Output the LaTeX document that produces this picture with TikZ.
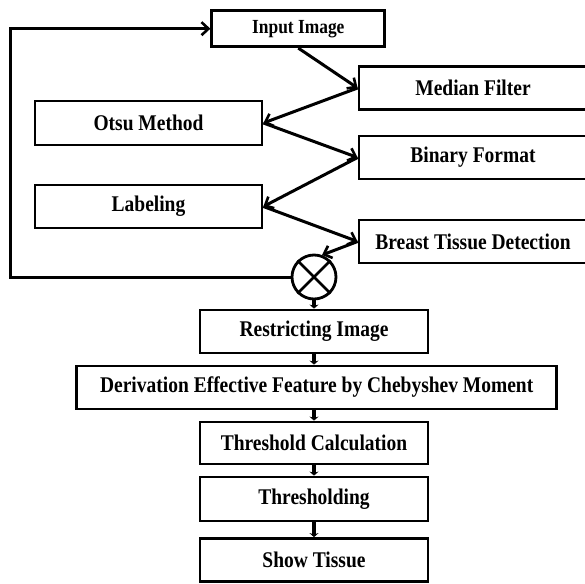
\documentclass[tikz,border=0pt]{standalone}
\usepackage{fontspec}
\setmainfont[FakeStretch=0.87]{Liberation Serif}
\usetikzlibrary{arrows.meta, positioning}
\tikzset{
    block/.style = {
        draw, line width=2.8pt, inner sep=0pt,
        minimum width=228pt, minimum height=43pt,
        font=\fontsize{22.4}{25}\selectfont\bfseries
    },
    sumnode/.style = {draw, circle, line width=2.8pt, minimum size=44pt, inner sep=0pt},
    link/.style = {
        line width=3pt,
        -{Straight Barb[length=7pt, width=13pt, line width=2.6pt]}
    },
    stub/.style = {line width=3.6pt, -{Stealth[length=4pt, width=9pt]}}
}

\begin{document}
\begin{tikzpicture}[x=1pt, y=-1pt]
        \useasboundingbox (0, 0) rectangle (585, 583);

        % upper part
        \node[block, minimum width=173pt, minimum height=36pt,
              font=\fontsize{20}{22}\selectfont\bfseries] (input) at (298.3, 28.7) {Input Image};
        \node[block] (median) at (473, 88) {Median Filter};
        \node[block, minimum width=227pt, minimum height=44pt] (otsu) at (148.5, 123) {Otsu Method};
        \node[block] (binary) at (473, 157.5) {Binary Format};
        \node[block, minimum width=227pt] (label) at (148.5, 206.5) {Labeling};
        \node[block] (breast) at (473, 241.5) {Breast Tissue Detection};
        \node[sumnode] (mult) at (314, 277) {};
        \draw[line width=2.8pt] (mult.45) -- (mult.225);
        \draw[line width=2.8pt] (mult.135) -- (mult.315);

        % lower part
        \node[block] (restrict) at (314, 331.5) {Restricting Image};
        \node[block, minimum width=480pt] (derive) at (316.7, 387.5) {Derivation Effective Feature by Chebyshev Moment};
        \node[block, minimum height=42pt] (thrcalc) at (314, 443) {Threshold Calculation};
        \node[block, minimum height=44pt] (thresh) at (314, 499) {Thresholding};
        \node[block] (show) at (314, 560) {Show Tissue};

        \draw[link] (input.south) -- (median.west);
        \draw[link] (median.west) -- (otsu.east);
        \draw[link] (otsu.east) -- (binary.west);
        \draw[link] (binary.west) -- (label.east);
        \draw[link] (label.east) -- (breast.west);
        \draw[link] (breast.west) -- (mult.70);

        \coordinate (loopdown) at (10, 277);
        \coordinate (loopup) at (10, 28.7);
        \draw[link] (mult.west) -- (loopdown) -- (loopup) -- (input.west);

        \draw[stub] (mult.south) -- (restrict.north);
        \draw[stub] (restrict.south) -- (restrict.south |- derive.north);
        \draw[stub] (restrict.south |- derive.south) -- (thrcalc.north);
        \draw[stub] (thrcalc.south) -- (thresh.north);
        \draw[stub] (thresh.south) -- (show.north);
\end{tikzpicture}
\end{document}
